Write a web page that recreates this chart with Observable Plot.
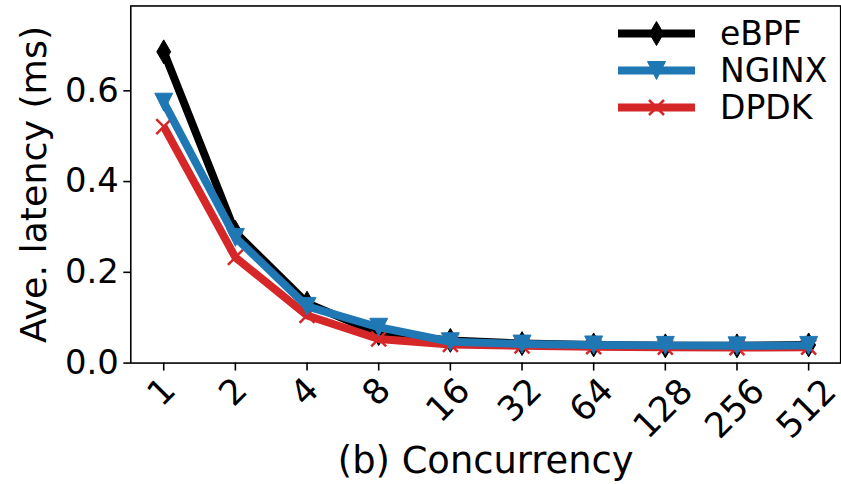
<!DOCTYPE html>
<html>
<head>
<meta charset="utf-8">
<script src="https://cdn.jsdelivr.net/npm/d3@7"></script>
<script src="https://cdn.jsdelivr.net/npm/@observablehq/plot@0.6"></script>
<style>
  html, body { margin: 0; padding: 0; background: white; overflow: hidden; width: 841px; height: 484px; }
  #wrap { position: relative; width: 841px; height: 484px; font-family: "DejaVu Sans", sans-serif; }
  #legend { position: absolute; left: 618px; top: 14.5px; }
  .row { display: flex; align-items: center; height: 37px; }
  .row span { font-size: 33px; line-height: 37px; margin-left: 25px; color: black; }
</style>
</head>
<body>
<div id="wrap"><div id="chart"></div><div id="legend"></div></div>
<script>
// ---- data ----
const concurrency = ["1", "2", "4", "8", "16", "32", "64", "128", "256", "512"];
const ebpf  = [0.686, 0.288, 0.132, 0.065, 0.050, 0.043, 0.040, 0.038, 0.038, 0.040];
const nginx = [0.575, 0.277, 0.125, 0.079, 0.047, 0.042, 0.040, 0.039, 0.038, 0.039];
const dpdk  = [0.521, 0.233, 0.105, 0.053, 0.041, 0.038, 0.036, 0.035, 0.034, 0.035];
const seriesNames = ["eBPF", "NGINX", "DPDK"];
const yTicks = [0, 0.2, 0.4, 0.6];
const xLabel = "(b) Concurrency";
const yLabel = "Ave. latency (ms)";

const colors = {eBPF: "#000000", NGINX: "#1f77b4", DPDK: "#d62728"};

const rows = (name, vals) => concurrency.map((c, i) => ({series: name, c, v: vals[i]}));
const dataE = rows("eBPF", ebpf);
const dataN = rows("NGINX", nginx);
const dataD = rows("DPDK", dpdk);

// ---- custom marker symbols ----
const thinDiamond = {draw(ctx, size) { const r = Math.sqrt(size / Math.PI); const w = 0.58 * r;
  ctx.moveTo(0, -r); ctx.lineTo(w, 0); ctx.lineTo(0, r); ctx.lineTo(-w, 0); ctx.closePath(); }};
const triDown = {draw(ctx, size) { const r = Math.sqrt(size / Math.PI);
  ctx.moveTo(-r, -r); ctx.lineTo(r, -r); ctx.lineTo(0, r); ctx.closePath(); }};
const xMark = {draw(ctx, size) { const r = Math.sqrt(size / Math.PI);
  ctx.moveTo(-r, -r); ctx.lineTo(r, r); ctx.moveTo(-r, r); ctx.lineTo(r, -r); }};

const lineOpts = (c) => ({x: "c", y: "v", stroke: c, strokeWidth: 8, strokeLinejoin: "round", strokeLinecap: "butt"});
const byLen = (n) => concurrency.filter(d => d.length === n);
const tickText = (n, dy) => Plot.text(byLen(n), {
  x: d => d, text: d => d, frameAnchor: "bottom", rotate: -45,
  textAnchor: "middle", lineAnchor: "middle", dy, dx: -2, fontSize: 35, fill: "black"
});

const chart = Plot.plot({
  width: 845, height: 484,
  marginTop: 5.5, marginBottom: 119.7, marginLeft: 130.9, marginRight: 0.8,
  style: {fontFamily: "DejaVu Sans", fontSize: "34px", color: "black", background: "white", overflow: "visible"},
  x: {type: "point", domain: concurrency, padding: 0.45, align: 0.5},
  y: {domain: [0, 0.787]},
  marks: [
    Plot.axisY({ticks: yTicks, tickFormat: d3.format(".1f"), tickSize: 7, tickPadding: 5, fontSize: 34, label: null, strokeWidth: 1.6}),
    Plot.axisX({tickSize: 8, tickFormat: () => "", label: null, strokeWidth: 1.6}),
    tickText(1, 29), tickText(2, 37.5), tickText(3, 46),
    Plot.text([xLabel], {frameAnchor: "bottom", dy: 98.5, textAnchor: "middle", lineAnchor: "middle", fontSize: 37, fill: "black"}),
    Plot.text([yLabel], {frameAnchor: "left", dx: -96.4, rotate: -90, textAnchor: "middle", lineAnchor: "middle", fontSize: 36.5, fill: "black"}),
    Plot.line(dataE, lineOpts(colors.eBPF)),
    Plot.dot(dataE, {x: "c", y: "v", symbol: thinDiamond, r: 12, fill: colors.eBPF, stroke: colors.eBPF, strokeWidth: 1}),
    Plot.line(dataD, lineOpts(colors.DPDK)),
    Plot.dot(dataD, {x: "c", y: "v", symbol: xMark, r: 7.5, fill: "none", stroke: colors.DPDK, strokeWidth: 2.5}),
    Plot.line(dataN, lineOpts(colors.NGINX)),
    Plot.dot(dataN, {x: "c", y: "v", symbol: triDown, r: 9, fill: colors.NGINX, stroke: colors.NGINX, strokeWidth: 1}),
    Plot.frame({stroke: "black", strokeWidth: 1.6})
  ]
});
document.getElementById("chart").appendChild(chart);

// ---- legend (HTML) ----
const markerSvg = {
  eBPF: '<path d="M38.5,26.5 L45.5,38.5 L38.5,50.5 L31.5,38.5 Z" fill="#000" stroke="#000"/>',
  NGINX: '<path d="M29.5,29.5 L47.5,29.5 L38.5,47.5 Z" fill="#1f77b4" stroke="#1f77b4"/>',
  DPDK: '<path d="M31,31 L46,46 M31,46 L46,31" stroke="#d62728" stroke-width="2.5" fill="none"/>'
};
const legend = d3.select("#legend");
seriesNames.forEach(name => {
  const row = legend.append("div").attr("class", "row");
  row.append("svg").attr("width", 77).attr("height", 37)
    .attr("viewBox", "0 20 77 37").style("overflow", "visible")
    .html(`<line x1="0" x2="77" y1="38.5" y2="38.5" stroke="${colors[name]}" stroke-width="8"/>` + markerSvg[name]);
  row.append("span").text(name);
});
</script>
</body>
</html>
